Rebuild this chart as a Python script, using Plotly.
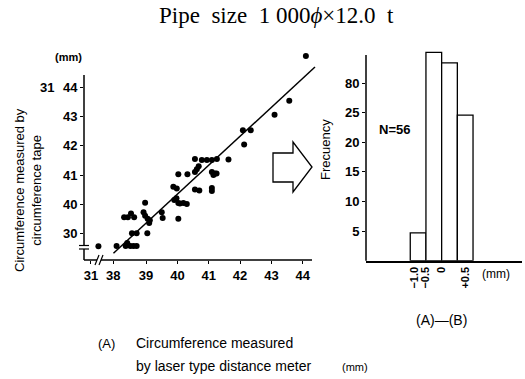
import plotly.graph_objects as go

# ---------------- data ----------------
# scatter: (A) laser meter vs (B) circumference tape  (axis units as drawn)
laser_x = [37.48, 38.06, 38.35, 38.50, 38.60, 38.70, 38.40,
           38.55, 38.70, 39.04,
           38.30, 38.42, 38.52, 38.62,
           38.97, 38.92, 38.97, 39.05, 39.10, 39.12,
           39.50, 39.53, 40.03,
           39.87, 39.98, 39.90, 39.97, 40.03, 40.08, 40.19, 40.30,
           40.03, 40.32,
           40.56, 40.78, 40.94, 41.10, 41.26,
           40.56, 40.62, 40.68,
           40.56, 40.70,
           41.10, 41.15, 41.20, 41.25,
           41.10, 41.10,
           41.63, 42.09, 42.34, 42.13, 43.10, 43.57, 44.10]
tape_y = [38.55, 38.56, 38.56, 38.56, 38.56, 38.56, 38.66,
          39.00, 39.00, 39.00,
          39.55, 39.55, 39.68, 39.55,
          40.05, 39.72, 39.60, 39.50, 39.35, 39.45,
          39.72, 39.52, 39.50,
          40.60, 40.54, 40.14, 40.20, 40.04, 40.02, 40.04, 40.00,
          41.03, 41.03,
          41.55, 41.52, 41.52, 41.52, 41.55,
          41.10, 41.20, 41.30,
          40.50, 40.47,
          41.10, 41.00, 41.05, 41.05,
          40.55, 40.45,
          41.53, 42.54, 42.54, 42.05, 43.07, 43.55, 45.09]
fit_x = [37.96, 44.39]
fit_y = [38.31, 44.71]

sc_xtick_vals = [37.24, 37.95, 39, 40, 41, 42, 43, 44]
sc_xtick_text = ["31", "38", "39", "40", "41", "42", "43", "44"]
sc_ytick_vals = [39, 40, 41, 42, 43, 44]
sc_ytick_text = ["30", "40", "41", "42", "43", "44"]

# histogram of (A)-(B)
bin_centers = [-0.75, -0.25, 0.25, 0.75]
bin_counts = [4.7, 35.2, 33.4, 24.6]
h_ytick_vals = [5, 10, 15, 20, 25, 30]
h_ytick_text = ["5", "10", "15", "20", "25", "80"]
h_xtick_vals = [-0.88, -0.53, 0.0, 0.77]
h_xtick_text = ["\u22121.0", "\u22120.5", "0", "+0.5"]

W, H = 525, 379
def px(x):
    return x / W
def py(y):
    return 1 - y / H

FONT = "Liberation Sans"
fig = go.Figure()

fig.add_trace(go.Scatter(x=fit_x, y=fit_y, mode="lines",
                         line=dict(color="black", width=1.5),
                         xaxis="x", yaxis="y", cliponaxis=False, hoverinfo="skip"))
fig.add_trace(go.Scatter(x=laser_x, y=tape_y, mode="markers",
                         marker=dict(color="black", size=6),
                         xaxis="x", yaxis="y", cliponaxis=False))
fig.add_trace(go.Bar(x=bin_centers, y=bin_counts, width=0.5,
                     marker=dict(color="white", line=dict(color="black", width=1.3)),
                     xaxis="x2", yaxis="y2"))

# scatter axes scale (px per unit); the visible axis lines are drawn as shapes
XU, YU = 31.34, 29.1
X0_PX, Y0_PX = 84, 260          # axis corner
XR = [37.02, 44.55]
YR = [38.08, 45.35]
X1_PX = X0_PX + (XR[1] - XR[0]) * XU
Y1_PX = Y0_PX - (YR[1] - YR[0]) * YU

HUNIT = 5.92      # px per count in histogram
H_BASE = 260.7
H_TOP = H_BASE - 36.0 * HUNIT

tickfont = dict(family=FONT, size=13, color="black", weight="bold")
fig.update_layout(
    width=W, height=H,
    margin=dict(l=0, r=0, t=0, b=0),
    paper_bgcolor="white", plot_bgcolor="rgba(0,0,0,0)",
    showlegend=False,
    xaxis=dict(domain=[px(X0_PX), px(X1_PX)], range=XR,
               tickvals=sc_xtick_vals, ticktext=sc_xtick_text,
               showline=False,
               ticks="outside", ticklen=3, tickcolor="black",
               showgrid=False, zeroline=False, tickfont=tickfont,
               anchor="y"),
    yaxis=dict(domain=[py(Y0_PX), py(Y1_PX)], range=YR,
               tickvals=sc_ytick_vals, ticktext=sc_ytick_text,
               showline=False,
               ticks="outside", ticklen=3, tickcolor="black",
               showgrid=False, zeroline=False, tickfont=tickfont,
               anchor="x"),
    xaxis2=dict(domain=[px(366), px(522)], range=[-2.41, 2.56],
                tickvals=h_xtick_vals, ticktext=h_xtick_text, tickangle=-90,
                showline=True, linecolor="black", linewidth=1.5,
                ticks="", showgrid=False, zeroline=False,
                tickfont=dict(family=FONT, size=11, color="black", weight="bold"),
                anchor="y2"),
    yaxis2=dict(domain=[py(H_BASE), py(H_TOP)], range=[0, 36.0],
                tickvals=h_ytick_vals, ticktext=h_ytick_text,
                showline=False,
                ticks="outside", ticklen=3, tickcolor="black",
                showgrid=False, zeroline=False, tickfont=tickfont,
                anchor="x2"),
)

ann = []
def A(text, x, y, size=13, angle=0, family=FONT, xanchor="center", weight="normal"):
    ann.append(dict(text=text, x=px(x), y=py(y), xref="paper", yref="paper",
                    showarrow=False, textangle=angle, xanchor=xanchor, yanchor="middle",
                    font=dict(family=family, size=size, color="black", weight=weight)))

A("Pipe  size  1 000<i>\u03d5</i>\u00d712.0  t", 276, 15, size=23, family="Liberation Serif")
A("(mm)", 68, 57, size=11, weight="bold")
A("31", 47, 88, size=13, weight="bold")
A("Circumference measured by<br>circumference tape", 28, 190, size=13, angle=-90)
A("Frecuency", 325, 150, size=13, angle=-90)
A("N=56", 394, 130, size=13, weight="bold")
A("(mm)", 496, 274, size=12)
A("(A)\u2014(B)", 441, 320, size=14)
A("(A)", 96, 343, size=13, xanchor="left")
A("Circumference measured", 134, 343, size=14, xanchor="left")
A("by laser type distance meter", 134, 366, size=14, xanchor="left")
A("(mm)", 340, 367, size=11, xanchor="left")
fig.update_layout(annotations=ann)

def L(x0, y0, x1, y1, w=1.5):
    return dict(type="line", x0=px(x0), x1=px(x1), y0=py(y0), y1=py(y1),
                xref="paper", yref="paper", line=dict(color="black", width=w))

shapes = []
# scatter axis lines
shapes.append(L(X0_PX, Y0_PX, X0_PX, 75))
shapes.append(L(X0_PX, Y0_PX, 312, Y0_PX))
# histogram y-axis line
shapes.append(L(366, H_BASE, 366, 55))
# block arrow
arrow_path = ("M {a},{b} L {c},{b} L {c},{d} L {e},{f} L {c},{g} L {c},{h} L {a},{h} Z").format(
    a=px(273), b=py(153), c=px(293), d=py(142), e=px(312), f=py(167), g=py(192), h=py(182))
shapes.append(dict(type="path", path=arrow_path, xref="paper", yref="paper",
                   line=dict(color="black", width=1.3), fillcolor="white"))
# y-axis break marks
shapes.append(dict(type="rect", x0=px(82), x1=px(86), y0=py(249), y1=py(245.5),
                   xref="paper", yref="paper", line=dict(width=0), fillcolor="white"))
for yy in (245.5, 249):
    shapes.append(L(79, yy, 89, yy, 1.2))
# x-axis break marks
shapes.append(dict(type="rect", x0=px(97), x1=px(101), y0=py(258), y1=py(262),
                   xref="paper", yref="paper", line=dict(width=0), fillcolor="white"))
for xx in (97, 101):
    shapes.append(L(xx - 2, 265, xx + 2, 255, 1.2))
fig.update_layout(shapes=shapes)

# remove the browser's default 8px page margin so the figure fills the window
fig.write_html("out.html",
               config={"displayModeBar": False},
               post_script="document.body.style.margin='0';document.body.style.overflow='hidden';")
